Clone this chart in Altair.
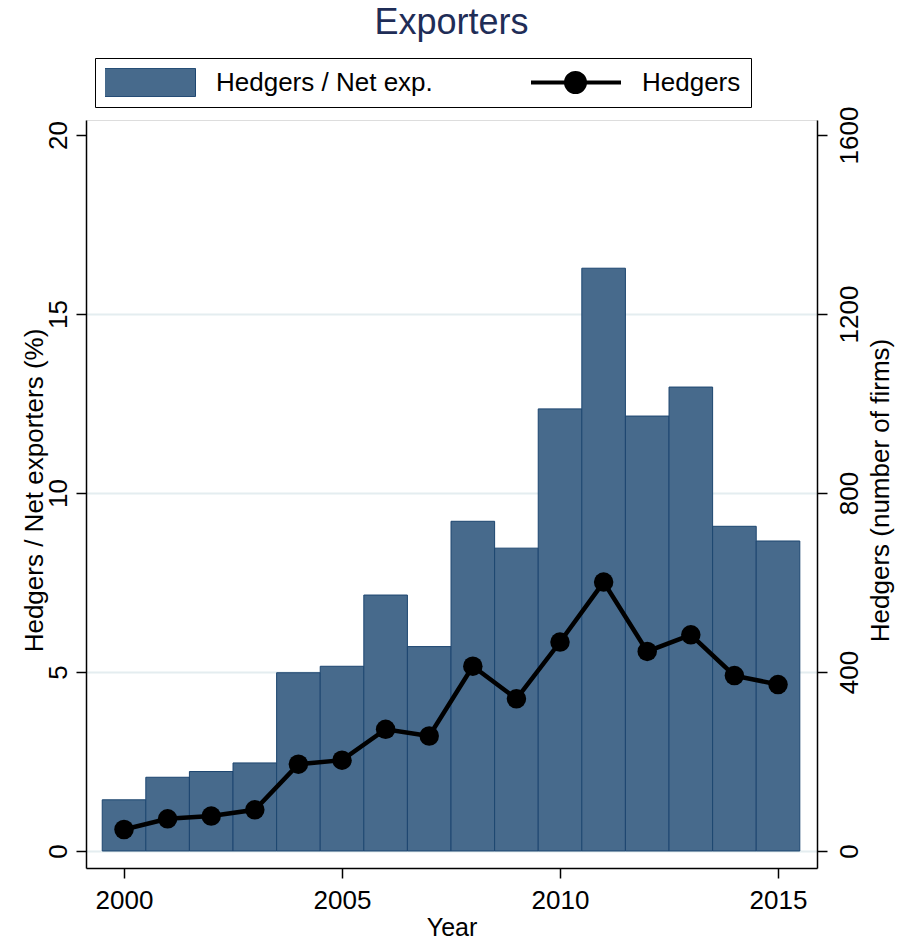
import altair as alt
import pandas as pd

# ---- data ----
years = list(range(2000, 2016))
ratio = [1.43, 2.06, 2.22, 2.46, 4.98, 5.16, 7.15, 5.71, 9.21, 8.46,
         12.35, 16.28, 12.15, 12.96, 9.07, 8.66]
hedgers = [48, 72, 78, 92, 194, 203, 272, 257, 413, 340,
           467, 601, 446, 483, 392, 372]
series_names = ["Hedgers / Net exp.", "Hedgers"]
left_ticks = [0, 5, 10, 15, 20]
right_ticks = [0, 400, 800, 1200, 1600]
x_ticks = [2000, 2005, 2010, 2015]

df = pd.DataFrame({"year": years, "ratio": ratio, "hedgers": hedgers})

FONT = "Liberation Sans"
BAR_FILL = "#476a8c"
BAR_EDGE = "#1d4670"
GRID = "#e4edf0"

x_scale = alt.Scale(domain=[1999.128, 2015.894], nice=False, zero=False)
y_left_scale = alt.Scale(domain=[-0.475, 20.42], nice=False, zero=False)
y_right_scale = alt.Scale(domain=[-38, 1633.6], nice=False, zero=False)

common_axis = dict(
    labelFont=FONT, labelFontSize=26, labelColor="black",
    titleFont=FONT, titleFontWeight="normal", titleColor="black",
    tickSize=10, tickColor="black", tickWidth=1.5,
    domainColor="black", domainWidth=1.5,
)

x_axis = alt.Axis(
    values=x_ticks, format="d", orient="bottom", title="Year",
    labelAngle=0, labelPadding=9, labelFlush=False, labelOverlap=False,
    titleFontSize=25, titleBaseline="alphabetic", titleY=67,
    grid=False, **common_axis,
)

left_axis = alt.Axis(
    values=left_ticks, format="d", orient="left", title="Hedgers / Net exporters (%)",
    labelAngle=270, labelAlign="center", labelBaseline="bottom", labelPadding=5,
    labelFlush=False, labelOverlap=False,
    grid=True, gridColor=GRID, gridWidth=2,
    gridOpacity={"condition": {"test": "datum.value === 20", "value": 0}, "value": 1},
    titleFontSize=26, titleAngle=270, titleAlign="center", titleBaseline="alphabetic",
    titleX=-44, titleY=370,
    **common_axis,
)

right_axis = alt.Axis(
    values=right_ticks, format="d", orient="right", title="Hedgers (number of firms)",
    labelAngle=270, labelAlign="center", labelBaseline="top", labelPadding=9,
    labelFlush=False, labelOverlap=False,
    grid=False,
    titleFontSize=26, titleAngle=270, titleAlign="center", titleBaseline="alphabetic",
    titleX=71, titleY=370,
    **common_axis,
)

# legend symbols (unit = 14.5 px): a filled swatch for the bars,
# a line with a dot for the line series
RECT_PATH = "M-3.1724,-0.97H3.1724V0.97H-3.1724Z"
LINE_PATH = ("M-3.138,0H3.138M-0.655,0A0.655,0.655,0,1,1,0.655,0"
             "A0.655,0.655,0,1,1,-0.655,0Z")
IS_LINE = "datum.value === 'Hedgers'"

legend = alt.Legend(
    title=None, orient="none", legendX=9, legendY=-62,
    direction="horizontal", columns=2, columnPadding=98, padding=10,
    strokeColor="black", fillColor="white",
    symbolSize=841, clipHeight=29, symbolOffset=31.5, labelOffset=53.5,
    symbolType={"expr": f"{IS_LINE} ? '{LINE_PATH}' : '{RECT_PATH}'"},
    symbolStrokeColor={"expr": f"{IS_LINE} ? 'black' : '{BAR_EDGE}'"},
    symbolStrokeWidth={"expr": f"{IS_LINE} ? 4 : 1"},
    symbolOpacity=1,
    labelFont=FONT, labelFontSize=26, labelColor="black", labelLimit=600,
)

bars = alt.Chart(df).transform_calculate(
    x0="datum.year - 0.5", x1="datum.year + 0.5", series="'Hedgers / Net exp.'"
).mark_bar().encode(
    x=alt.X("x0:Q", scale=x_scale, axis=x_axis),
    x2="x1:Q",
    y=alt.Y("ratio:Q", scale=y_left_scale, axis=left_axis),
    y2=alt.datum(0),
    color=alt.Color("series:N",
                    scale=alt.Scale(domain=series_names, range=[BAR_FILL, "black"]),
                    legend=legend),
    stroke=alt.value(BAR_EDGE),
    strokeWidth=alt.value(1),
    opacity=alt.value(1),
)

line = alt.Chart(df).mark_line(
    color="black", strokeWidth=4.5,
    point=alt.OverlayMarkDef(filled=True, color="black", size=380, opacity=1),
).encode(
    x=alt.X("year:Q", scale=x_scale, axis=x_axis),
    y=alt.Y("hedgers:Q", scale=y_right_scale, axis=right_axis),
)

chart = alt.layer(bars, line).resolve_scale(y="independent").properties(
    width=731, height=748,
    autosize=alt.AutoSizeParams(type="none"),
    padding={"left": 78, "top": 112, "right": 78, "bottom": 73},
    title=alt.TitleParams(
        "Exporters", font=FONT, fontSize=36, color="#1f2d57",
        fontWeight="normal", anchor="middle", frame="group",
        baseline="alphabetic", offset=24, dy=36,
    ),
).configure_view(stroke=None).configure(font=FONT)

chart.save("out.html", embed_options={"renderer": "svg", "actions": False})
